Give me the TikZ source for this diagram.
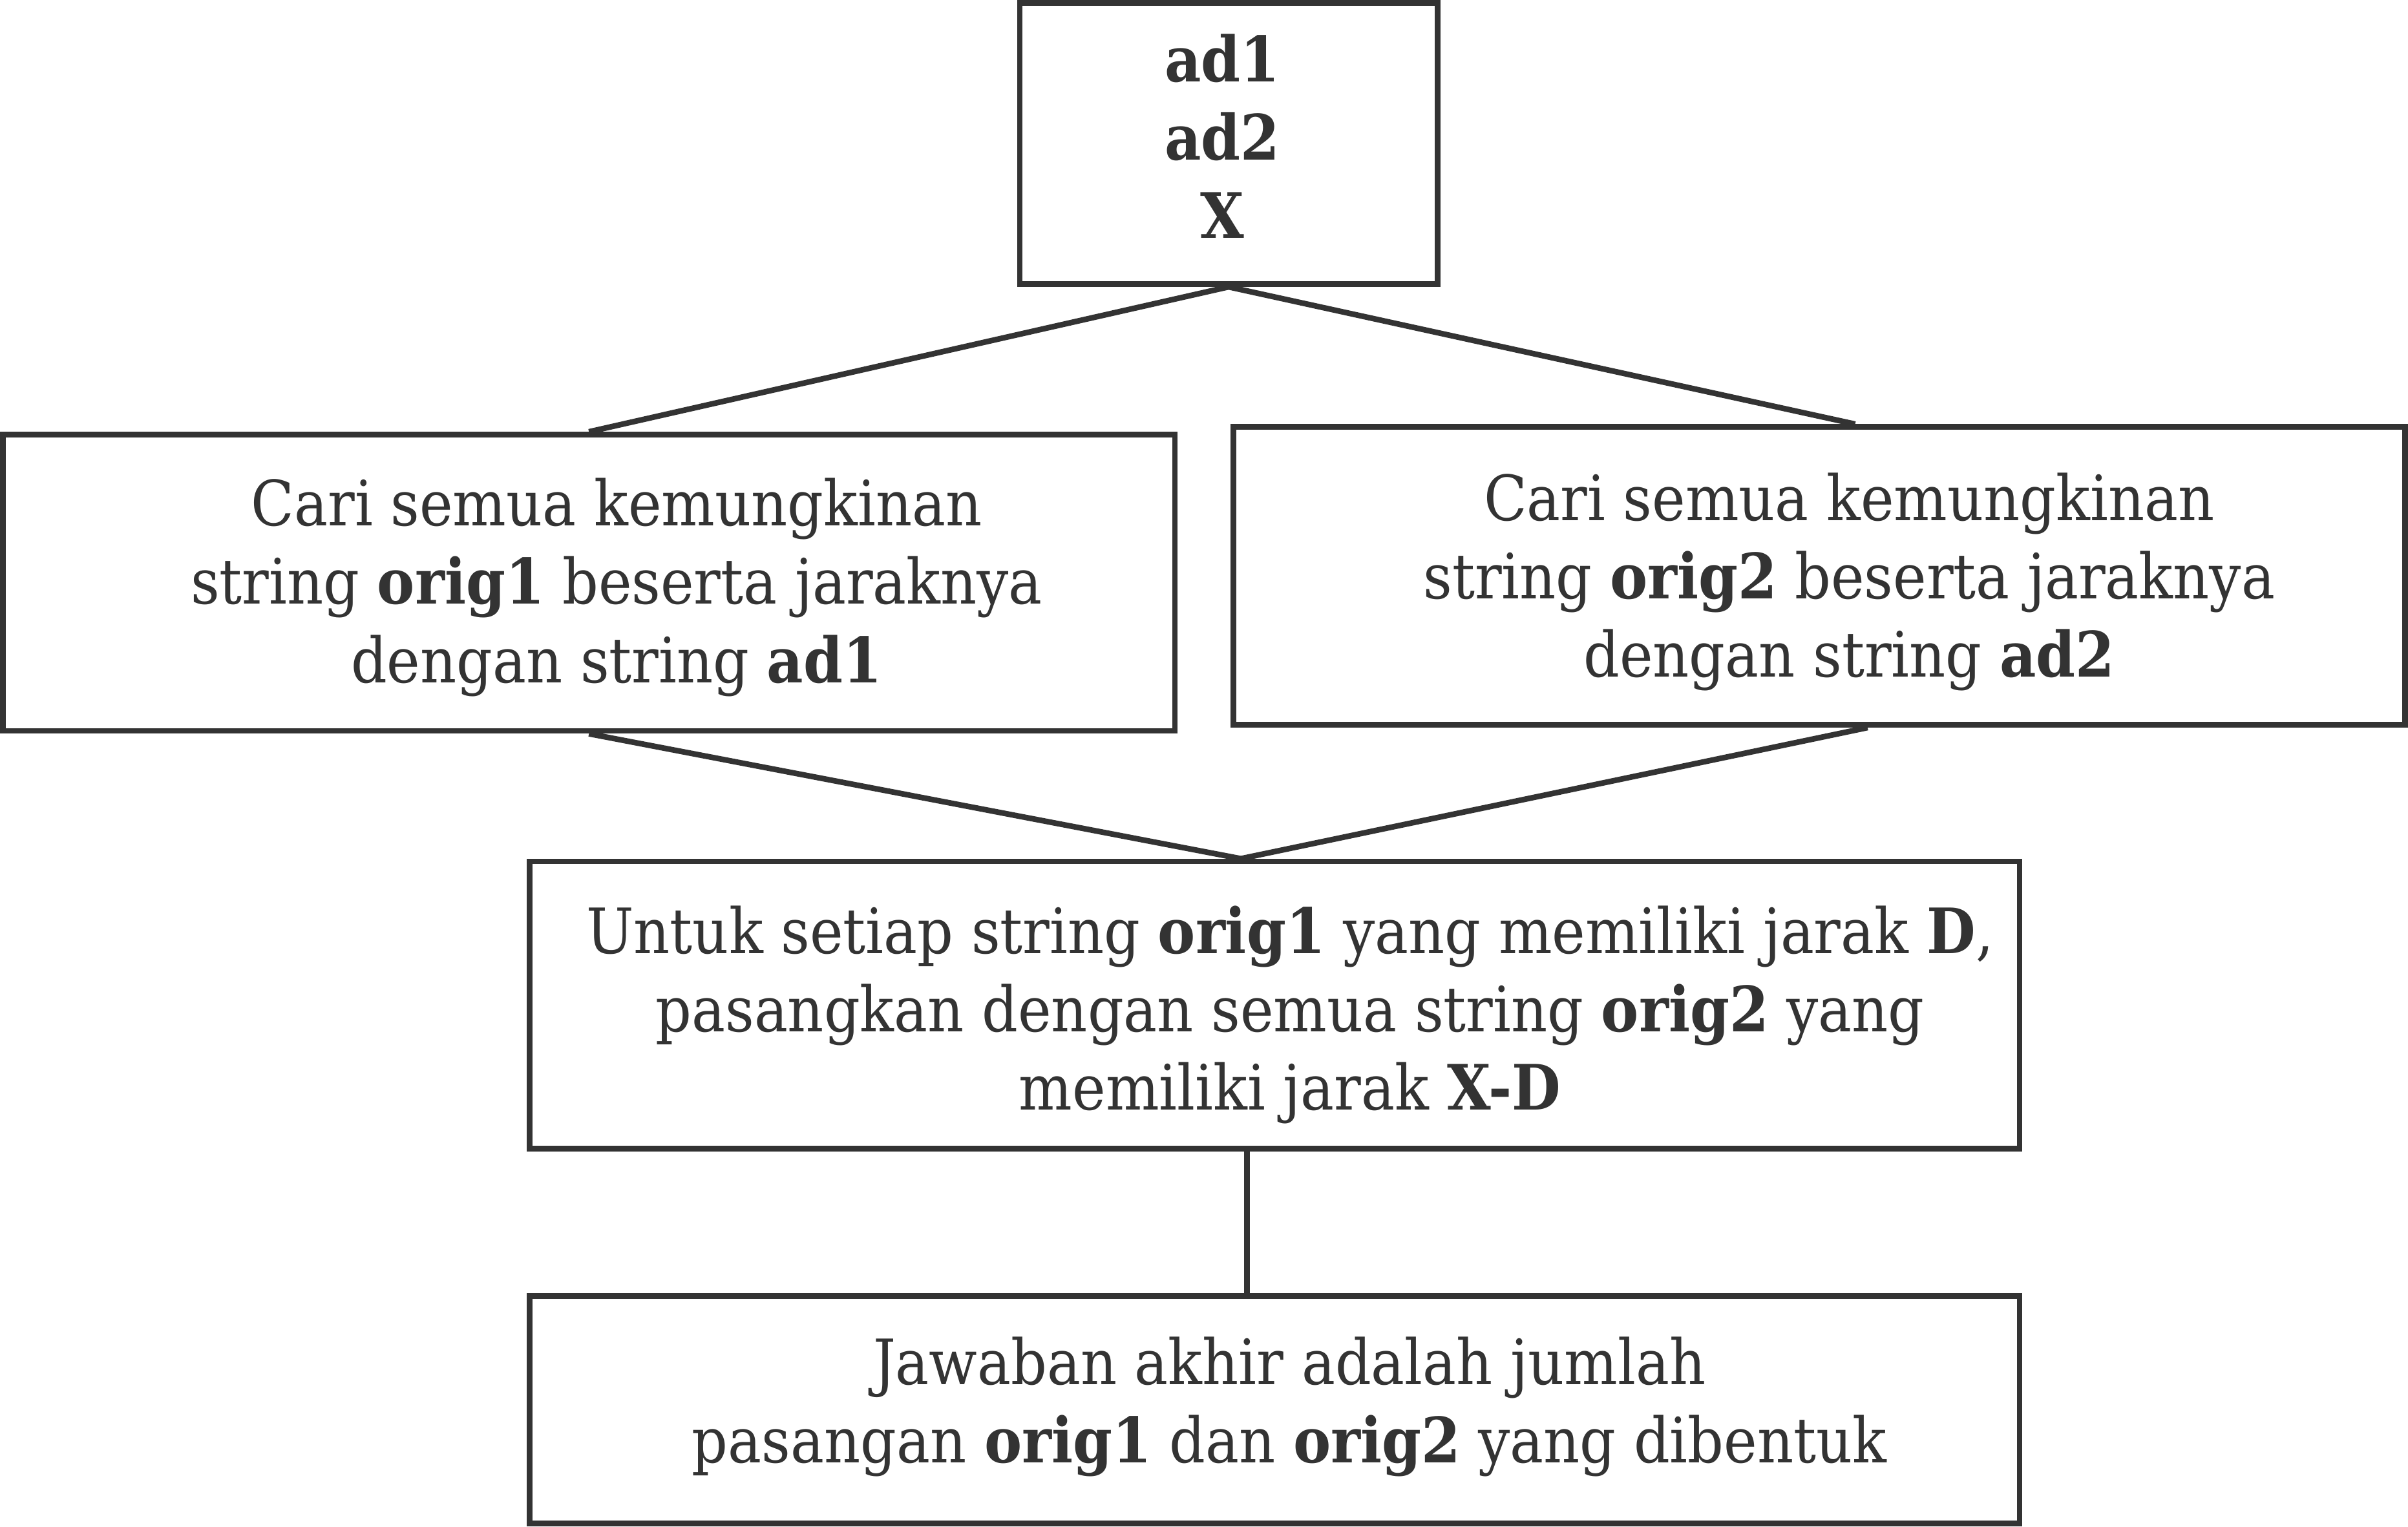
\documentclass[tikz,border=0pt]{standalone}
\usepackage{fontspec}
\setmainfont{DejaVu Serif Condensed}
\usepackage{tikz}
\usetikzlibrary{positioning}
\definecolor{ink}{HTML}{333333}

\begin{document}
\begin{tikzpicture}[line width=2.6pt]
	\useasboundingbox (0,0) rectangle (39.2,-24.85);
	\begin{scope}[every node/.style={rectangle,draw=ink,line width=2.6pt,inner sep=0pt}]
		\node[minimum width=6.8cm,minimum height=4.575cm] (ad) at (20,-2.3375) {};
		\node[minimum width=19.075cm,minimum height=4.825cm] (cari1) at (9.5875,-9.4875) {};
		\node[minimum width=19.075cm,minimum height=4.85cm] (cari2) at (29.6125,-9.375) {};
		\node[minimum width=24.25cm,minimum height=4.675cm] (pasang) at (20.75,-16.3625) {};
		\node[minimum width=24.25cm,minimum height=3.7cm] (jawab) at (20.75,-22.95) {};
	\end{scope}

	\begin{scope}[every node/.style={align=center,text=ink,inner sep=0pt,font=\fontsize{29}{36.3}\selectfont}]
		\node (adtxt) at ([shift={(-0.1,0.12)}]ad.center) {\textbf{ad1}\\ \textbf{ad2}\\ \textbf{X}};
		\node (cari1txt) at ([shift={(0.45,-0.075)}]cari1.center) {Cari semua kemungkinan\\ string \textbf{orig1} beserta jaraknya\\ dengan string \textbf{ad1}};
		\node (cari2txt) at ([shift={(0.49,-0.1)}]cari2.center) {Cari semua kemungkinan\\ string \textbf{orig2} beserta jaraknya\\ dengan string \textbf{ad2}};
		\node (pasangtxt) at ([shift={(0.25,-0.16)}]pasang.center) {Untuk setiap string \textbf{orig1} yang memiliki jarak \textbf{D},\\ pasangkan dengan semua string \textbf{orig2} yang\\ memiliki jarak \textbf{X-D}};
		\node (jawabtxt) at ([shift={(0.24,0.05)}]jawab.center) {Jawaban akhir adalah jumlah\\ pasangan \textbf{orig1} dan \textbf{orig2} yang dibentuk};
	\end{scope}

	\begin{scope}[draw=ink]
	\draw (ad.south) -- (cari1.north);
	\draw (ad.south) -- ([xshift=0.5875cm]cari2.north);
	\draw (cari1.south) -- ([xshift=-0.55cm]pasang.north);
	\draw ([xshift=0.79cm]cari2.south) -- ([xshift=-0.55cm]pasang.north);
	\draw ([xshift=-0.45cm]pasang.south) -- ([xshift=-0.45cm]jawab.north);
	\end{scope}
\end{tikzpicture}
\end{document}
